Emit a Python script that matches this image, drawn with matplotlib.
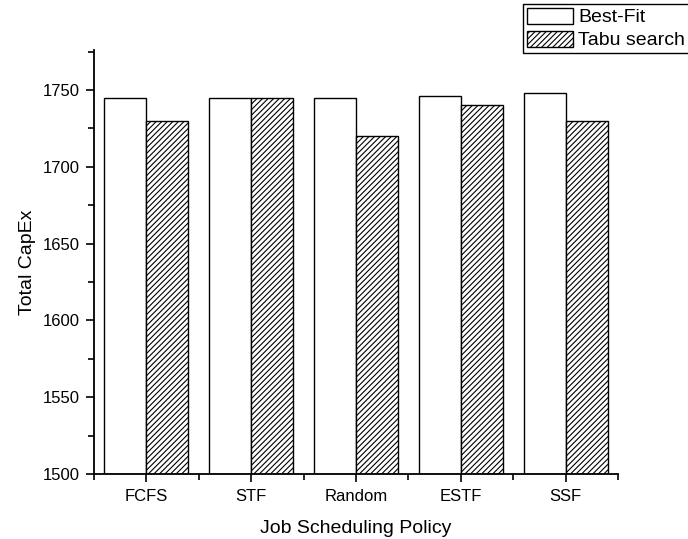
import numpy as np
import matplotlib
matplotlib.use("Agg")
import matplotlib.pyplot as plt
from matplotlib.ticker import MultipleLocator

policies = ["FCFS", "STF", "Random", "ESTF", "SSF"]
best_fit = [1745, 1745, 1745, 1746, 1748]
tabu_search = [1730, 1745, 1720, 1740, 1730]

plt.rcParams['font.family'] = ['Liberation Sans', 'DejaVu Sans']
plt.rcParams['hatch.linewidth'] = 0.8

fig = plt.figure(figsize=(6.88, 5.39), dpi=100)
ax = fig.add_axes([0.1366, 0.1206, 0.7618, 0.7866])

x = np.arange(1, len(policies) + 1)
w = 0.4
ax.bar(x - w / 2, np.array(best_fit) - 1500, w, bottom=1500, color='white',
       edgecolor='black', linewidth=1, label='Best-Fit')
ax.bar(x + w / 2, np.array(tabu_search) - 1500, w, bottom=1500, color='white',
       edgecolor='black', linewidth=1, hatch='//////', label='Tabu search')

ax.set_xlim(0.5, 5.5)
ax.set_ylim(1500, 1776)
ax.set_xticks(x)
ax.set_xticklabels(policies)
ax.xaxis.set_minor_locator(MultipleLocator(1, offset=0.5))
ax.yaxis.set_major_locator(MultipleLocator(50))
ax.yaxis.set_minor_locator(MultipleLocator(25))
ax.tick_params(which='major', direction='out', length=6, width=1.2, labelsize=12)
ax.tick_params(which='minor', direction='out', length=4, width=1.2)
ax.tick_params(axis='x', pad=5)
ax.tick_params(axis='y', pad=4)

for s in ['top', 'right']:
    ax.spines[s].set_visible(False)
for s in ['left', 'bottom']:
    ax.spines[s].set_linewidth(1.3)

ax.set_xlabel("Job Scheduling Policy", fontsize=14, labelpad=11)
ax.set_ylabel("Total CapEx", fontsize=14, labelpad=5)

leg = ax.legend(loc='upper left', bbox_to_anchor=(0.760, 0.993),
                bbox_transform=fig.transFigure, fontsize=14, fancybox=False,
                framealpha=1, edgecolor='black', borderpad=0.2,
                handlelength=2.4, handleheight=0.9, handletextpad=0.25,
                labelspacing=0.22, borderaxespad=0)
leg.get_frame().set_linewidth(1)

fig.savefig("out.png", dpi=100)
